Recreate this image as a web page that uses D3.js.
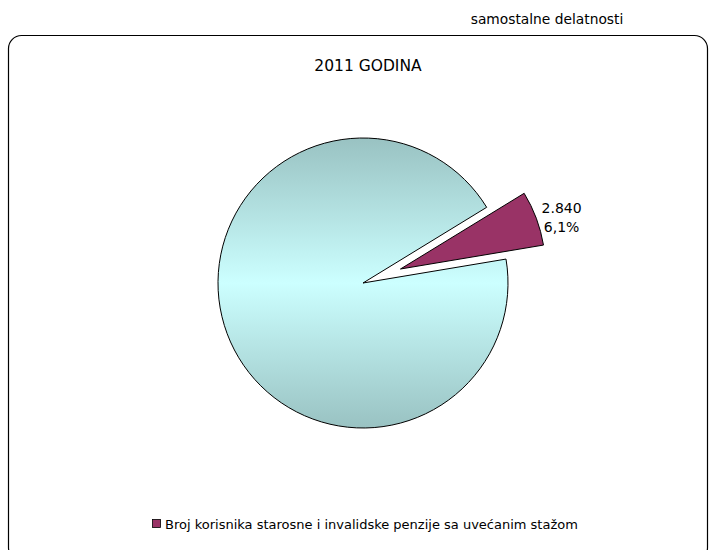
<!DOCTYPE html>
<html>
<head>
<meta charset="utf-8">
<script src="https://cdn.jsdelivr.net/npm/d3@7"></script>
<style>
  body { margin: 0; background: #fff; }
  svg text { font-family: "DejaVu Sans", sans-serif; fill: #000; }
</style>
</head>
<body>
<div class="container"></div>
<script>
// data
const categories = ["", "Broj korisnika starosne i invalidske penzije sa uvećanim stažom"]
const values = [43700, 2840]
const colors = ["url(#pieGrad)", "#993366"]
const exploded = [0, 40]
const valueLabels = ["", "2.840"]
const percentLabels = ["", "6,1%"]

const width = 709
const height = 550
const cx = 363, cy = 283
const radius = 145

const svg = d3.select(".container")
    .append("svg")
    .attr("width", width)
    .attr("height", height)

// gradient for the big slice (dark at top and bottom, light in the middle)
const grad = svg.append("defs").append("linearGradient")
    .attr("id", "pieGrad")
    .attr("gradientUnits", "userSpaceOnUse")
    .attr("x1", 0).attr("x2", 0)
    .attr("y1", -radius).attr("y2", radius)
grad.append("stop").attr("offset", "0%").attr("stop-color", "#99c2c2")
grad.append("stop").attr("offset", "50%").attr("stop-color", "#ccffff")
grad.append("stop").attr("offset", "100%").attr("stop-color", "#99c2c2")

// outer rounded frame
svg.append("rect")
    .attr("x", 8.5).attr("y", 35.5)
    .attr("width", 699).attr("height", 525)
    .attr("rx", 13).attr("ry", 13)
    .style("fill", "none")
    .style("stroke", "#000")
    .style("stroke-width", 1.2)

svg.append("text")
    .attr("x", 547).attr("y", 24)
    .attr("text-anchor", "middle")
    .style("font-size", "13.8px")
    .text("samostalne delatnosti")

svg.append("text")
    .attr("x", 368).attr("y", 71)
    .attr("text-anchor", "middle")
    .style("font-size", "15.5px")
    .text("2011 GODINA")

const data = values.map((v, i) => ({ name: categories[i], value: v, i: i }))

const pie = d3.pie()
    .value(d => d.value)
    .sort(null)
    .startAngle(80.5 * Math.PI / 180)
    .endAngle((80.5 + 360) * Math.PI / 180)

const arcs = pie(data)
const arc = d3.arc().innerRadius(0).outerRadius(radius)
const dirArc = d3.arc().innerRadius(0).outerRadius(2)

const g = svg.append("g").attr("transform", "translate(" + cx + "," + cy + ")")

g.selectAll(".slice")
    .data(arcs)
    .enter().append("path")
    .attr("class", "slice")
    .attr("transform", d => {
        const c = dirArc.centroid(d) // unit vector along the bisector
        const k = exploded[d.data.i]
        return "translate(" + c[0] * k + "," + c[1] * k + ")"
    })
    .attr("d", arc)
    .style("fill", d => colors[d.data.i])
    .style("stroke", "#000")
    .style("stroke-width", 1)

// data label outside the small slice
const labelArc = d3.arc().innerRadius(212).outerRadius(212)
const lab = g.selectAll(".lab")
    .data(arcs.filter(d => valueLabels[d.data.i] !== ""))
    .enter().append("text")
    .attr("class", "lab")
    .attr("text-anchor", "middle")
    .style("font-size", "14px")
    .attr("transform", d => {
        const c = labelArc.centroid(d)
        return "translate(" + c[0] + "," + (c[1] - 8) + ")"
    })
lab.append("tspan").attr("x", 0).attr("dy", "0.9em").text(d => valueLabels[d.data.i])
lab.append("tspan").attr("x", 0).attr("dy", "1.3em").text(d => percentLabels[d.data.i])

// legend, only named categories
const legend = svg.append("g").attr("transform", "translate(152,519)")
const items = data.filter(d => d.name !== "")
items.forEach((d, k) => {
    legend.append("rect")
        .attr("x", 0.5).attr("y", 0.5)
        .attr("width", 8).attr("height", 8)
        .style("fill", colors[d.i])
        .style("stroke", "#000")
        .style("stroke-width", 0.8)
    legend.append("text")
        .attr("x", 13).attr("y", 9.5)
        .style("font-size", "13px")
        .text(d.name)
})
</script>
</body>
</html>
